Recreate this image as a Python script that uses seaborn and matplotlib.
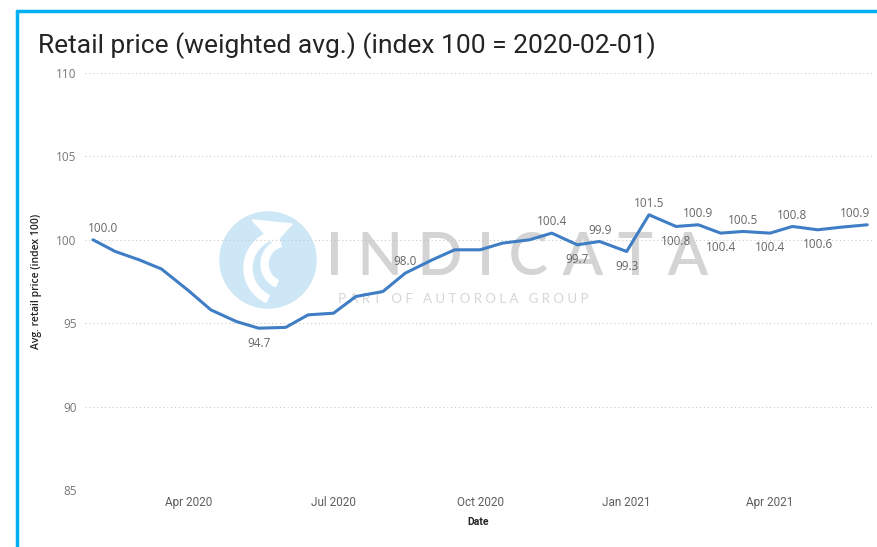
import matplotlib.pyplot as plt
from matplotlib.patches import Circle, Wedge, Polygon
from matplotlib.lines import Line2D
import pandas as pd
import seaborn as sns

# half-monthly retail price index
dates = ["2020-02-01", "2020-02-15", "2020-03-01", "2020-03-15", "2020-04-01",
         "2020-04-15", "2020-05-01", "2020-05-15", "2020-06-01", "2020-06-15",
         "2020-07-01", "2020-07-15", "2020-08-01", "2020-08-15", "2020-09-01",
         "2020-09-15", "2020-10-01", "2020-10-15", "2020-11-01", "2020-11-15",
         "2020-12-01", "2020-12-15", "2021-01-01", "2021-01-15", "2021-02-01",
         "2021-02-15", "2021-03-01", "2021-03-15", "2021-04-01", "2021-04-15",
         "2021-05-01", "2021-05-15", "2021-06-01"]
index_values = [100.0, 99.3, 98.8, 98.25, 96.95,
                95.8, 95.1, 94.7, 94.75, 95.5,
                95.6, 96.6, 96.9, 98.0, 98.8,
                99.4, 99.4, 99.8, 100.0, 100.4,
                99.7, 99.9, 99.3, 101.5, 100.8,
                100.9, 100.4, 100.5, 100.4, 100.8,
                100.6, 100.75, 100.9]

# points that carry a data label
label_dates = ["2020-02-01", "2020-05-15", "2020-08-15", "2020-11-15", "2020-12-01",
               "2020-12-15", "2021-01-01", "2021-01-15", "2021-02-01", "2021-02-15",
               "2021-03-01", "2021-03-15", "2021-04-01", "2021-04-15", "2021-05-01",
               "2021-06-01"]
label_side = ["above", "below", "above", "above", "below",
              "above", "below", "above", "below", "above",
              "below", "above", "below", "above", "below",
              "above"]

tick_dates = ["2020-04-01", "2020-07-01", "2020-10-01", "2021-01-01", "2021-04-01"]
tick_labels = ["Apr 2020", "Jul 2020", "Oct 2020", "Jan 2021", "Apr 2021"]
y_ticks = [85, 90, 95, 100, 105, 110]

df = pd.DataFrame({"Date": pd.to_datetime(dates), "Index": index_values})

sns.set_style("white")
plt.rcParams['font.family'] = ['Open Sans', 'DejaVu Sans']

fig = plt.figure(figsize=(8.77, 5.47), dpi=100)
ax = fig.add_axes([85 / 877, 1 - 490 / 547, 787 / 877, 417 / 547])

# watermark, kept behind the axes (zorder below the axes)
H = 5.47
tr = fig.dpi_scale_trans
fig.patches.append(Circle((2.68, H - 2.60), 0.48, transform=tr, color="#cde7f7", zorder=-2))
fig.patches.append(Wedge((2.82, H - 2.68), 0.38, 115, 245, width=0.08, transform=tr, color="white", zorder=-1))
fig.patches.append(Wedge((2.86, H - 2.64), 0.25, 105, 245, width=0.07, transform=tr, color="white", zorder=-1))
fig.patches.append(Polygon([(2.52, H - 2.20), (2.92, H - 2.24), (2.74, H - 2.44)], closed=True,
                           transform=tr, color="white", zorder=-1))
fig.text(326 / 877, 1 - 258 / 547, "I N D I C A T A", fontsize=42.5, color="#d4d4d4",
         family=["Lato", "DejaVu Sans"], fontweight="semibold", va="center", ha="left", zorder=-1)
fig.text(338 / 877, 1 - 299 / 547, "P A R T   O F   A U T O R O L A   G R O U P", fontsize=9.5,
         color="#d6d6d6", family=["Lato", "DejaVu Sans"], va="center", ha="left", zorder=-1)
ax.set_facecolor("none")

sns.lineplot(data=df, x="Date", y="Index", color="#3f7dc5", linewidth=2.2, ax=ax, zorder=3)

lookup = dict(zip(df["Date"], df["Index"]))
for i, (d, side) in enumerate(zip(label_dates, label_side)):
    d = pd.Timestamp(d)
    v = lookup[d]
    ha = "center"
    dx = 0
    if i == 0:
        ha, dx = "left", -4
    elif i == len(label_dates) - 1:
        ha, dx = "right", 2
    if side == "above":
        dy, va = 3.5, "bottom"
    else:
        dy, va = -6, "top"
    ax.annotate(f"{v:.1f}", (d, v), xytext=(dx, dy), textcoords="offset points",
                ha=ha, va=va, fontsize=8.5, color="#666666", zorder=4)

ax.set_ylim(85, 110)
ax.set_xlim(pd.Timestamp("2020-01-27"), pd.Timestamp("2021-06-04"))
ax.set_yticks(y_ticks)
ax.set_xticks(pd.to_datetime(tick_dates))
ax.set_xticklabels(tick_labels, family=["Roboto", "DejaVu Sans"])
ax.tick_params(axis="y", length=0, pad=6, labelsize=8.5, labelcolor="#777777")
ax.tick_params(axis="x", length=0, pad=4, labelsize=8.5, labelcolor="#605e5c")
ax.yaxis.grid(True, linestyle=(0, (1, 2.5)), color="#c8c8c8", linewidth=0.8)
ax.xaxis.grid(False)
for s in ax.spines.values():
    s.set_visible(False)

ax.set_xlabel("Date", fontsize=7.5, color="#252423", fontweight="semibold", labelpad=6,
              family=["Roboto", "DejaVu Sans"])
ax.set_ylabel("Avg. retail price (index 100)", fontsize=7.5, color="#252423",
              fontweight="semibold", labelpad=10)

fig.text(38 / 877, 1 - 46 / 547, "Retail price (weighted avg.) (index 100 = 2020-02-01)",
         fontsize=19, color="#252423", va="center", ha="left", family=["Roboto", "DejaVu Sans"])

# cyan frame around the tile
fig.add_artist(Line2D([17 / 877, 1.0], [1 - 11 / 547, 1 - 11 / 547], color="#00b0f0", linewidth=2.5))
fig.add_artist(Line2D([17 / 877, 17 / 877], [0, 1 - 11 / 547], color="#00b0f0", linewidth=2.5))

fig.savefig("out.png", dpi=100)
